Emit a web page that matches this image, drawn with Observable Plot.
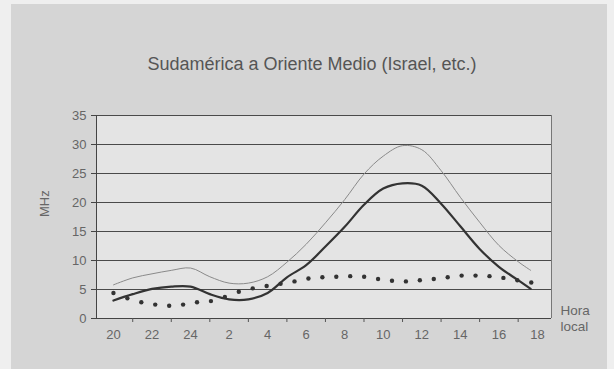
<!DOCTYPE html>
<html>
<head>
<meta charset="utf-8">
<script src="https://cdn.jsdelivr.net/npm/d3@7"></script>
<script src="https://cdn.jsdelivr.net/npm/@observablehq/plot@0.6"></script>
<style>
  html, body { margin: 0; padding: 0; background: #efefef; width: 614px; height: 369px; overflow: hidden; }
  #panel { position: absolute; left: 11px; top: 4px; width: 596px; height: 365px; background: #d5d5d5; }
  #chart { position: absolute; left: 0; top: 0; }
  #chart svg { background: transparent !important; }
</style>
</head>
<body>
<div id="panel"></div>
<div id="chart"></div>
<script>
// Hours counted from 20:00 (x position); labels are local hours
const tickHours = [0, 2, 4, 6, 8, 10, 12, 14, 16, 18, 20, 22];
const tickLabels = ["20", "22", "24", "2", "4", "6", "8", "10", "12", "14", "16", "18"];
const minorTickHours = [1, 3, 5, 7, 9, 11, 13, 15, 17, 19, 21];
const yTicks = [0, 5, 10, 15, 20, 25, 30, 35];

// Upper (thin) and middle (thick) curves, sampled hourly
const lineHours = [0, 1, 2, 3, 4, 5, 6, 7, 8, 9, 10, 11, 12, 13, 14, 15, 16, 17, 18, 19, 20, 21, 21.65];
const upperMHz = [5.8, 7.0, 7.7, 8.3, 8.7, 7.2, 6.1, 6.1, 7.2, 9.7, 12.8, 16.5, 20.5, 24.9, 28.0, 29.8, 29.1, 25.5, 20.9, 16.6, 12.6, 9.8, 8.3];
const middleMHz = [3.1, 4.2, 5.1, 5.5, 5.5, 4.2, 3.3, 3.3, 4.4, 7.1, 9.2, 12.4, 15.8, 19.6, 22.4, 23.3, 22.9, 19.8, 15.9, 12.0, 8.9, 6.6, 5.1];

// Dotted (lower) series
const dotMHz = [4.4, 3.5, 2.8, 2.4, 2.2, 2.4, 2.8, 3.0, 3.7, 4.6, 5.2, 5.6, 6.0, 6.4,
                6.9, 7.1, 7.2, 7.3, 7.2, 6.8, 6.5, 6.4, 6.6, 6.8, 7.1, 7.4, 7.4, 7.3, 7.0, 6.6, 6.2];
const dotSpanHours = 21.68;

const title = "Sudamérica a Oriente Medio (Israel, etc.)";
const yLabel = "MHz";
const xLabel = ["Hora", "local"];

const upper = lineHours.map((h, i) => ({h, v: upperMHz[i]}));
const middle = lineHours.map((h, i) => ({h, v: middleMHz[i]}));
const dots = dotMHz.map((v, i) => ({h: i * dotSpanHours / (dotMHz.length - 1), v}));

const xDomain = [-0.88, 22.73];

const chart = Plot.plot({
  width: 614,
  height: 369,
  marginLeft: 96,
  marginRight: 63,
  marginTop: 115,
  marginBottom: 51,
  style: {fontFamily: "'Liberation Sans', Arial, sans-serif", fontSize: "13px", color: "#666", background: "transparent"},
  x: {domain: xDomain},
  y: {domain: [0, 35]},
  marks: [
    Plot.frame({fill: "#e4e4e4", stroke: null}),
    Plot.ruleY(yTicks.filter(d => d > 0), {stroke: "#4a4a4a", strokeWidth: 1}),
    Plot.ruleX([xDomain[1]], {stroke: "#777", strokeWidth: 1}),
    Plot.ruleY([0], {stroke: "#444", strokeWidth: 1}),
    Plot.ruleX([xDomain[0]], {stroke: "#444", strokeWidth: 1}),
    Plot.axisY({ticks: yTicks, tickSize: 5, tickPadding: 5, stroke: "#444", fill: "#666", fontSize: 13, label: null}),
    Plot.axisX({ticks: tickHours, tickFormat: (d, i) => tickLabels[i], tickSize: 0, tickPadding: 11, fill: "#666", fontSize: 13, label: null}),
    Plot.axisX({ticks: minorTickHours, tickFormat: () => "", tickSize: 4, stroke: "#555", label: null}),
    Plot.line(upper, {x: "h", y: "v", curve: "catmull-rom", stroke: "#8a8a8a", strokeWidth: 1}),
    Plot.line(middle, {x: "h", y: "v", curve: "catmull-rom", stroke: "#333", strokeWidth: 2.2}),
    Plot.dot(dots, {x: "h", y: "v", r: 2.2, fill: "#333", stroke: null}),
    Plot.text([title], {frameAnchor: "top", dx: -12, dy: -58, fontSize: 18, fill: "#555"}),
    Plot.text([yLabel], {frameAnchor: "left", dx: -52, rotate: -90, fontSize: 13, fill: "#666"}),
    Plot.text([xLabel[0]], {frameAnchor: "bottom-right", dx: 9, dy: -4, textAnchor: "start", fontSize: 13.5, fill: "#666"}),
    Plot.text([xLabel[1]], {frameAnchor: "bottom-right", dx: 9, dy: 12, textAnchor: "start", fontSize: 13.5, fill: "#666"})
  ]
});
document.getElementById("chart").appendChild(chart);
</script>
</body>
</html>
